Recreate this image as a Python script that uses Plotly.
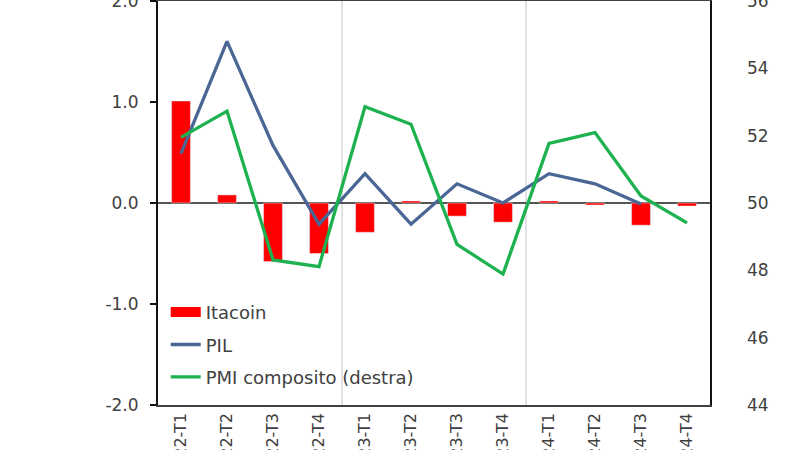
import plotly.graph_objects as go

categories = ["2022-T1", "2022-T2", "2022-T3", "2022-T4",
              "2023-T1", "2023-T2", "2023-T3", "2023-T4",
              "2024-T1", "2024-T2", "2024-T3", "2024-T4"]
itacoin = [1.01, 0.08, -0.58, -0.50, -0.29, 0.02, -0.13, -0.19, 0.02, -0.02, -0.22, -0.03]
pil = [0.49, 1.60, 0.57, -0.21, 0.29, -0.21, 0.19, 0.00, 0.29, 0.19, -0.01, None]
pmi = [51.95, 52.73, 48.31, 48.11, 52.86, 52.34, 48.77, 47.89, 51.77, 52.09, 50.21, 49.41]

left_ticks = [-2, -1, 0, 1, 2]
left_labels = ["-2.0", "-1.0", "0.0", "1.0", "2.0"]
right_ticks = [44, 46, 48, 50, 52, 54, 56]

RED = "#FF0000"
BLUE = "#4A6694"
GREEN = "#1DB24F"
TXT = "#404040"
FONT = "DejaVu Sans"

fig = go.Figure()
fig.add_trace(go.Bar(x=categories, y=itacoin, name="Itacoin", marker_color=RED,
                     width=0.41, showlegend=False))
# legend proxy for the bar series (wide red swatch, as in the reference)
fig.add_trace(go.Scatter(x=[None], y=[None], name="Itacoin", mode="lines",
                         line=dict(color=RED, width=12), legendgroup="a", hoverinfo="skip"))
fig.add_trace(go.Scatter(x=categories, y=pil, name="PIL", mode="lines",
                         line=dict(color=BLUE, width=3.3), legendgroup="b"))
fig.add_trace(go.Scatter(x=categories, y=pmi, name="PMI composito (destra)", mode="lines",
                         line=dict(color=GREEN, width=3.3), yaxis="y2", legendgroup="c"))

# year separators between groups of quarters
shapes = []
for i in range(1, len(categories)):
    if categories[i][:4] != categories[i - 1][:4]:
        shapes.append(dict(type="line", xref="x", yref="paper", x0=i - 0.5, x1=i - 0.5,
                           y0=0, y1=1, line=dict(color="#D9D9D9", width=1.5), layer="below"))

fig.update_layout(
    width=800, height=450,
    margin=dict(l=158, r=90, t=1, b=45),
    paper_bgcolor="white", plot_bgcolor="white",
    font=dict(family=FONT, size=16, color=TXT),
    showlegend=True,
    legend=dict(x=0.014, y=0.275, xanchor="left", yanchor="top", bgcolor="rgba(0,0,0,0)",
                font=dict(size=18, color=TXT), tracegroupgap=6, itemwidth=30),
    bargap=0.5,
    shapes=shapes,
    xaxis=dict(type="category", tickangle=-90, showline=True, linecolor="#404040", linewidth=1.5,
               mirror=True, ticks="", showgrid=False, automargin=False,
               tickfont=dict(size=16, color=TXT)),
    yaxis=dict(range=[-2, 2], tickvals=left_ticks, ticktext=left_labels, showgrid=False,
               showline=True, linecolor="#111111", linewidth=2, mirror=True,
               ticks="outside", ticklen=6, tickcolor="#111111", tickwidth=1.5,
               zeroline=True, zerolinecolor="#555555", zerolinewidth=2,
               automargin=False, ticklabelstandoff=8, ticklabeloverflow="allow",
               tickfont=dict(size=17, color=TXT)),
    yaxis2=dict(range=[44, 56], tickvals=right_ticks, overlaying="y", side="right",
                showgrid=False, zeroline=False, showline=False, ticks="",
                automargin=False, ticklabelstandoff=36, ticklabeloverflow="allow",
                tickfont=dict(size=17, color=TXT)),
)

fig.write_html("out.html")
